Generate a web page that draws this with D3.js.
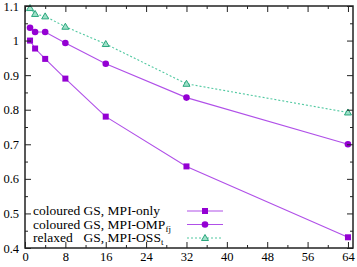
<!DOCTYPE html>
<html>
<head>
<meta charset="utf-8">
<script src="https://cdn.jsdelivr.net/npm/d3@7"></script>
<style>
  body { margin: 0; background: #fff; }
  svg text { font-family: "Liberation Serif", serif; fill: #000; }
</style>
</head>
<body>
<svg id="chart"></svg>
<script>
const procs = [1, 2, 4, 8, 16, 32, 64];
const mpiOnly = [1.0, 0.977, 0.947, 0.89, 0.78, 0.636, 0.431];
const mpiOmp = [1.037, 1.025, 1.025, 0.993, 0.933, 0.835, 0.70];
const mpiOss = [1.094, 1.077, 1.07, 1.04, 0.99, 0.875, 0.792];
const xTicks = [0, 8, 16, 24, 32, 40, 48, 56, 64];
const yTicks = [0.4, 0.5, 0.6, 0.7, 0.8, 0.9, 1, 1.1];
const legendLabels = [
  ['coloured', 'GS, MPI-only', ''],
  ['coloured', 'GS, MPI-OMP', 'fj'],
  ['relaxed', 'GS, MPI-OSS', 't']
];

const width = 357, height = 267;
const margin = { top: 6, right: 4, bottom: 19, left: 25 };

const svg = d3.select('#chart').attr('width', width).attr('height', height);

const x = d3.scaleLinear().domain([0, 65]).range([margin.left, width - margin.right]);
const y = d3.scaleLinear().domain([0.4, 1.1]).range([height - margin.bottom, margin.top]);

const axisColor = '#222';

// inward ticks on all four sides, minor ticks halfway
function drawAxes() {
  const g = svg.append('g');
  const xMinor = d3.range(4, 65, 8);
  const yMinor = d3.range(0.45, 1.1, 0.1);
  const [x0, x1] = x.range(), [y0, y1] = y.range();

  const bottom = d3.axisBottom(x).tickValues(xTicks).tickSize(-6).tickFormat(d3.format('d')).tickPadding(4);
  const left = d3.axisLeft(y).tickValues(yTicks).tickSize(-6).tickFormat(d => d === 1 ? '1' : d3.format('.1f')(d)).tickPadding(6);

  g.append('g').attr('transform', `translate(0,${y0})`).call(bottom);
  g.append('g').attr('transform', `translate(${x0},0)`).call(left);
  g.append('g').attr('transform', `translate(0,${y1})`).call(d3.axisTop(x).tickValues(xTicks).tickSize(-6).tickFormat(''));
  g.append('g').attr('transform', `translate(${x1},0)`).call(d3.axisRight(y).tickValues(yTicks).tickSize(-6).tickFormat(''));
  g.append('g').attr('transform', `translate(0,${y0})`).call(d3.axisBottom(x).tickValues(xMinor).tickSize(-3).tickFormat(''));
  g.append('g').attr('transform', `translate(0,${y1})`).call(d3.axisTop(x).tickValues(xMinor).tickSize(-3).tickFormat(''));
  g.append('g').attr('transform', `translate(${x0},0)`).call(d3.axisLeft(y).tickValues(yMinor).tickSize(-3).tickFormat(''));
  g.append('g').attr('transform', `translate(${x1},0)`).call(d3.axisRight(y).tickValues(yMinor).tickSize(-3).tickFormat(''));

  g.selectAll('.domain').remove();
  g.selectAll('line').attr('stroke', axisColor).attr('stroke-width', 1);
  g.selectAll('text').style('font-size', '12.5px').style('font-family', '"Liberation Serif", serif').attr('fill', '#000');

  g.append('rect')
    .attr('x', x0).attr('y', y1)
    .attr('width', x1 - x0).attr('height', y0 - y1)
    .attr('fill', 'none').attr('stroke', axisColor).attr('stroke-width', 1.5);
}

const purple = '#9400d3';
const purpleLine = '#b050e8';
const green = '#2aa67d';
const greenLine = '#50c8a0';

const series = [
  { values: mpiOnly, marker: 'square', line: purpleLine, fill: purple, stroke: purple, dash: null },
  { values: mpiOmp, marker: 'circle', line: purpleLine, fill: purple, stroke: purple, dash: null },
  { values: mpiOss, marker: 'triangle', line: greenLine, fill: '#9ee0c8', stroke: green, dash: '2,2' }
];

function drawMarker(g, type, cx, cy, s) {
  if (type === 'square') {
    g.append('rect').attr('x', cx - 3).attr('y', cy - 3).attr('width', 6).attr('height', 6)
      .attr('fill', s.fill);
  } else if (type === 'circle') {
    g.append('circle').attr('cx', cx).attr('cy', cy).attr('r', 3.3).attr('fill', s.fill);
  } else {
    g.append('path')
      .attr('d', `M${cx},${cy - 3.5}L${cx + 3.5},${cy + 2.5}L${cx - 3.5},${cy + 2.5}Z`)
      .attr('fill', s.fill).attr('stroke', s.stroke).attr('stroke-width', 1);
  }
}

const line = d3.line().x(d => x(d[0])).y(d => y(d[1]));

series.forEach(s => {
  const pts = procs.map((p, i) => [p, s.values[i]]);
  svg.append('path').datum(pts)
    .attr('d', line)
    .attr('fill', 'none')
    .attr('stroke', s.line)
    .attr('stroke-width', 1.1)
    .attr('stroke-dasharray', s.dash);
  const mg = svg.append('g');
  pts.forEach(p => drawMarker(mg, s.marker, x(p[0]), y(p[1]), s));
});

drawAxes();

// legend
const legend = svg.append('g').style('font-size', '13.5px');
// "GS" column lines up under the widest first word
const probe = legend.append('text').text('coloured\u00a0');
const gsX = 33 + probe.node().getComputedTextLength();
probe.remove();

legendLabels.forEach((r, i) => {
  const ly = 211 + i * 13.5;
  const t = legend.append('text').attr('y', ly + 4.2);
  t.append('tspan').attr('x', 33).text(r[0]);
  t.append('tspan').attr('x', gsX).text(r[1]);
  if (r[2]) t.append('tspan').attr('dy', 3).style('font-size', '9px').text(r[2]);
  const s = series[i];
  legend.append('line')
    .attr('x1', 187).attr('x2', 223).attr('y1', ly).attr('y2', ly)
    .attr('stroke', s.line).attr('stroke-width', 1.1)
    .attr('stroke-dasharray', s.dash);
  drawMarker(legend, s.marker, 205, ly, s);
});
</script>
</body>
</html>
